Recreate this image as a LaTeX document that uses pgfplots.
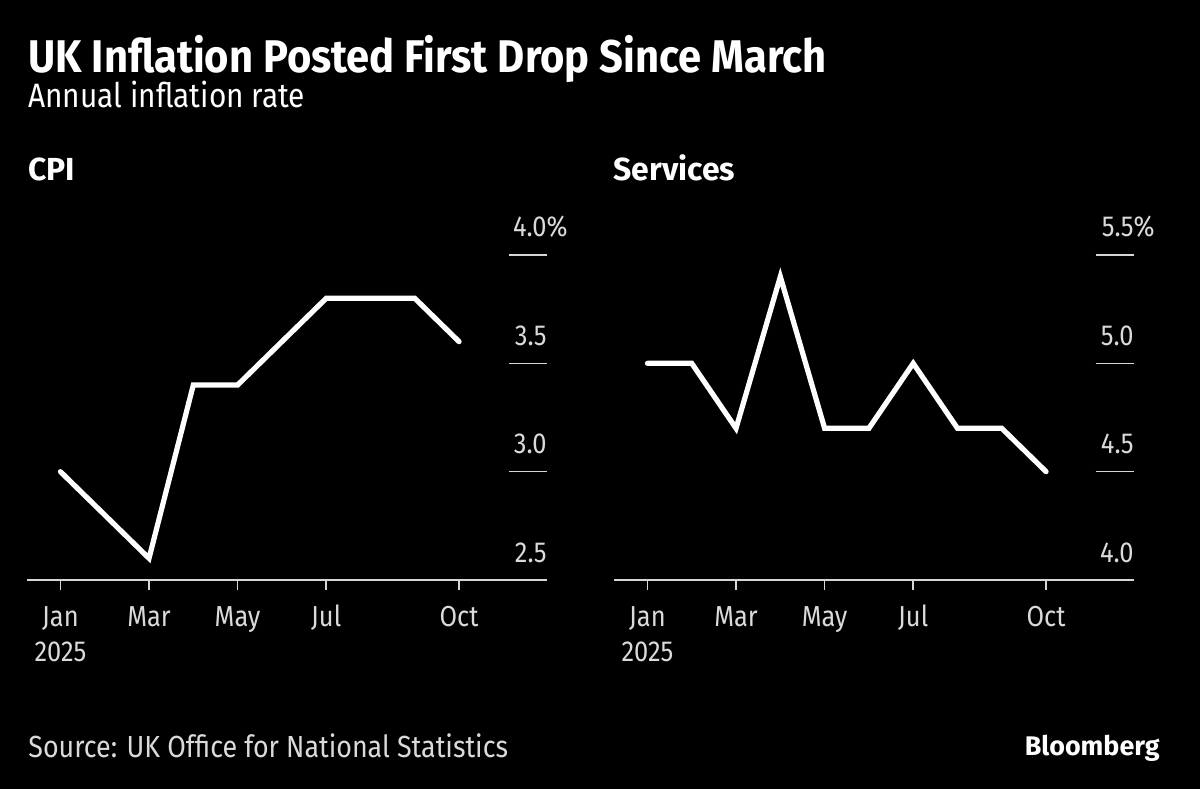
\documentclass[border=0pt]{standalone}
\usepackage{fontspec}
\setmainfont{Fira Sans}[FakeStretch=0.88]
\newfontfamily\titlefont{Fira Sans}[FakeStretch=0.91]
\newfontfamily\widefont{Fira Sans}
\usepackage{pgfplots}
\pgfplotsset{compat=1.18}
\usepackage{pgfplotstable}

\definecolor{ticktext}{HTML}{DADADA}
\definecolor{axisline}{HTML}{D6D6D6}

% monthly values, Jan 2025 = 0
\pgfplotstableread{
m  cpi  serv
0  3.0  5.0
1  2.8  5.0
2  2.6  4.7
3  3.4  5.4
4  3.4  4.7
5  3.6  4.7
6  3.8  5.0
7  3.8  4.7
8  3.8  4.7
9  3.6  4.5
}\inflation

\pgfplotsset{
  panel/.style={
    scale only axis, width=260bp, height=162.5bp,
    anchor=south west,
    xmin=-0.755, xmax=10.985,
    axis x line*=bottom, axis y line=none,
    x axis line style={axisline, line width=0.8bp, -},
    xtick={0,2,4,6,9},
    xticklabels={{Jan\\2025},Mar,May,Jul,Oct},
    xtick style={axisline, line width=0.8bp},
    tick align=outside, major tick length=5bp,
    typeset ticklabels with strut,
    xticklabel style={font=\fontsize{14.5}{17.5}\selectfont, text=ticktext, align=center, anchor=north, yshift=-2.5bp},
    clip=false,
  },
  series/.style={white, line width=2.6bp, line cap=round, line join=miter, mark=none},
}

\newcommand{\ylab}[2]{\node[anchor=base east, text=ticktext, font=\fontsize{14.5}{16}\selectfont, inner sep=0pt, yshift=9bp] at (axis cs:10.985,#1) {#2};}
\newcommand{\ygrid}[1]{\draw[axisline, line width=0.8bp] (axis cs:10.12,#1) -- (axis cs:10.985,#1);}

\begin{document}
\begin{tikzpicture}
\path[use as bounding box, fill=black] (0bp,0bp) rectangle (600bp,394.5bp);

\node[anchor=base west, inner sep=0pt, text=white, font=\titlefont\bfseries\fontsize{23}{26}\selectfont] at (14bp,358bp) {UK Inflation Posted First Drop Since March};
\node[anchor=base west, inner sep=0pt, text=white, font=\fontsize{17}{20}\selectfont] at (14bp,340.5bp) {Annual inflation rate};
\node[anchor=base west, inner sep=0pt, text=white, font=\widefont\bfseries\fontsize{16}{19}\selectfont] at (14bp,304bp) {CPI};
\node[anchor=base west, inner sep=0pt, text=white, font=\widefont\bfseries\fontsize{16}{19}\selectfont] at (306.5bp,304bp) {Services};

\begin{axis}[panel, at={(13.5bp,104.5bp)}, ymin=2.5, ymax=4.0]
  \addplot[series] table[x=m, y=cpi] {\inflation};
  \ygrid{3.0}\ygrid{3.5}\ygrid{4.0}
  \ylab{2.5}{2.5}\ylab{3.0}{3.0}\ylab{3.5}{3.5}\ylab{4.0}{4.0\rlap{\%}}
\end{axis}

\begin{axis}[panel, at={(307bp,104.5bp)}, ymin=4.0, ymax=5.5]
  \addplot[series] table[x=m, y=serv] {\inflation};
  \ygrid{4.5}\ygrid{5.0}\ygrid{5.5}
  \ylab{4.0}{4.0}\ylab{4.5}{4.5}\ylab{5.0}{5.0}\ylab{5.5}{5.5\rlap{\%}}
\end{axis}

\node[anchor=base west, inner sep=0pt, text=ticktext, font=\fontsize{15.3}{18}\selectfont] at (14bp,16bp) {Source: UK Office for National Statistics};
\node[anchor=base east, inner sep=0pt, text=white, font=\widefont\bfseries\fontsize{13.5}{16}\selectfont] at (580bp,17bp) {Bloomberg};
\end{tikzpicture}
\end{document}
